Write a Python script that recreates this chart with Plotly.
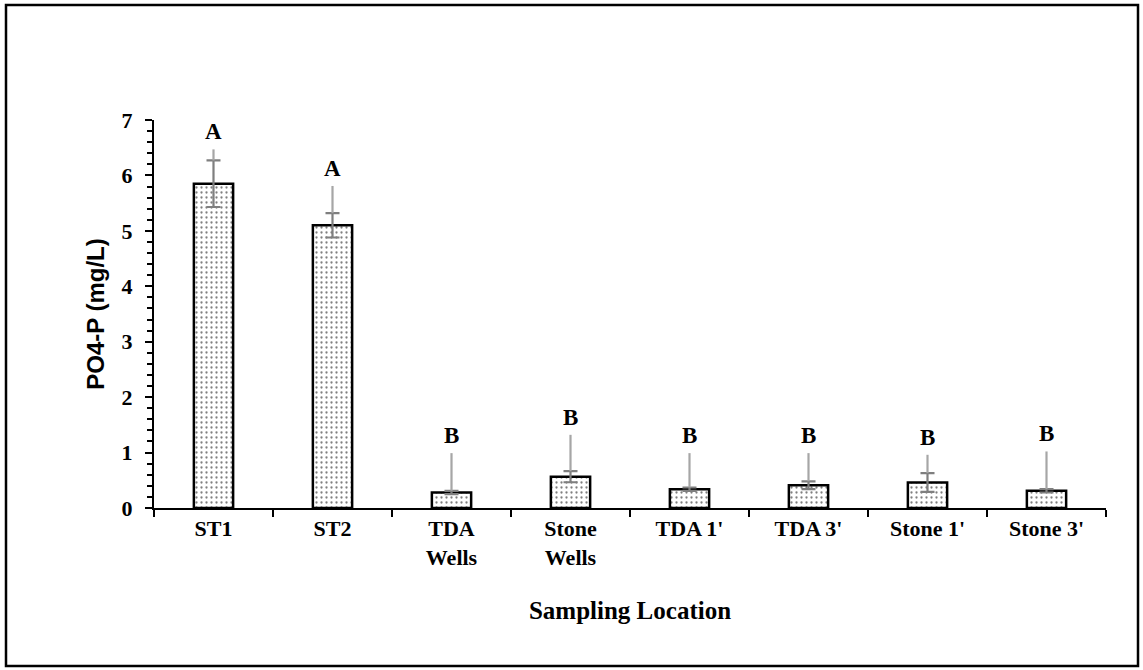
import plotly.graph_objects as go

# Sampling locations and measured PO4-P concentrations (mg/L)
locations = ["ST1", "ST2", "TDA<br>Wells", "Stone<br>Wells",
             "TDA 1'", "TDA 3'", "Stone 1'", "Stone 3'"]
mean_po4 = [5.85, 5.10, 0.28, 0.565, 0.34, 0.41, 0.46, 0.31]
sd_po4 = [0.42, 0.22, 0.03, 0.10, 0.03, 0.07, 0.17, 0.03]
# upper end of the grey line that links each bar to its group letter
letter_line_top = [6.47, 5.81, 0.99, 1.32, 0.99, 0.99, 0.96, 1.02]
group_letters = ["A", "A", "B", "B", "B", "B", "B", "B"]
y_ticks = [0, 1, 2, 3, 4, 5, 6, 7]

SERIF = "Liberation Serif, Times New Roman, serif"
SANS = "Liberation Sans, Arial, sans-serif"

fig = go.Figure()

fig.add_trace(go.Bar(
    x=locations,
    y=mean_po4,
    marker=dict(
        color="white",
        line=dict(color="black", width=2.5),
        pattern=dict(shape=".", fgcolor="black", bgcolor="white",
                     size=5, solidity=0.16),
    ),
    error_y=dict(type="data", array=sd_po4, visible=True,
                 color="#7f7f7f", thickness=2.2, width=7),
    showlegend=False,
    hoverinfo="skip",
))

# grey connector lines from the top of each error bar up to the letter
lx, ly = [], []
for loc, m, s, top in zip(locations, mean_po4, sd_po4, letter_line_top):
    lx += [loc, loc, None]
    ly += [m + s, top, None]
fig.add_trace(go.Scatter(
    x=lx, y=ly, mode="lines",
    line=dict(color="#a6a6a6", width=2.2),
    showlegend=False, hoverinfo="skip",
))

# group letters
for loc, top, letter in zip(locations, letter_line_top, group_letters):
    fig.add_annotation(
        x=loc, y=top, text=letter, showarrow=False,
        yanchor="bottom", yshift=3,
        font=dict(family=SERIF, size=23, color="black", weight="bold"),
    )

W, H = 1143, 670
ml, mr, mt, mb = 154, 37, 120, 162
pw, ph = W - ml - mr, H - mt - mb

# outer frame around the whole figure
fx0, fx1, fy0, fy1 = 6, 1138, 5, 666
fig.add_shape(
    type="rect", xref="paper", yref="paper",
    x0=(fx0 - ml) / pw, x1=(fx1 - ml) / pw,
    y0=(H - mb - fy1) / ph, y1=(H - mb - fy0) / ph,
    line=dict(color="black", width=2.5),
)

fig.update_layout(
    width=W, height=H,
    margin=dict(l=ml, r=mr, t=mt, b=mb),
    plot_bgcolor="white", paper_bgcolor="white",
    bargap=0.67,
    xaxis=dict(
        type="category",
        range=[-0.5, len(locations) - 0.5],
        showline=True, linecolor="black", linewidth=2,
        ticks="outside", ticklen=7, tickwidth=2, tickcolor="black",
        tickson="boundaries",
        showgrid=False, zeroline=False,
        tickfont=dict(family=SERIF, size=22, color="black", weight="bold"),
        title=dict(text="Sampling Location", standoff=32,
                   font=dict(family=SERIF, size=25, color="black",
                             weight="bold")),
    ),
    yaxis=dict(
        range=[0, 7],
        tickvals=y_ticks,
        showline=True, linecolor="black", linewidth=2,
        ticks="outside", ticklen=7, tickwidth=2, tickcolor="black",
        minor=dict(dtick=0.2, ticks="outside", ticklen=5, tickwidth=1.5,
                   tickcolor="black"),
        showgrid=False, zeroline=False,
        ticklabelstandoff=8,
        tickfont=dict(family=SERIF, size=22, color="black", weight="bold"),
        title=dict(text="PO4-P (mg/L)", standoff=10,
                   font=dict(family=SANS, size=24, color="black",
                             weight="bold")),
    ),
)

fig.write_html("out.html")
